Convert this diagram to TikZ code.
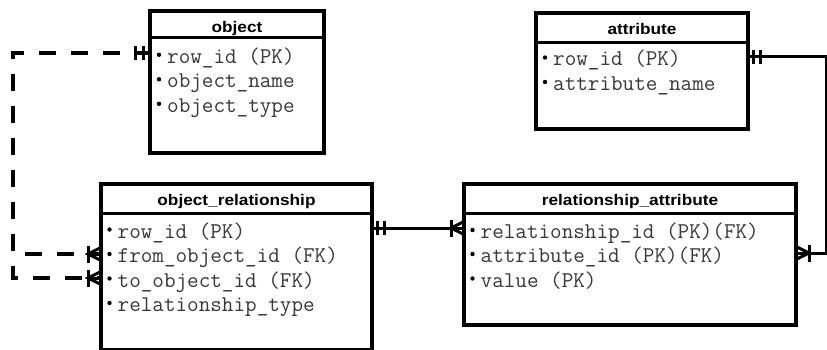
\documentclass[tikz,border=0pt]{standalone}
\usepackage{fontspec}
\newfontfamily\hdrfont[FakeStretch=1.12]{Liberation Sans}
\usetikzlibrary{calc}
\tikzset{
  tbl/.style={draw=black, line width=3.2pt, inner sep=0pt, outer sep=0pt, anchor=north west, fill=white},
  hline/.style={line width=3pt},
  hdr/.style={anchor=base, inner sep=0pt, font={\hdrfont\bfseries\fontsize{15.4}{18}\selectfont}},
  rowtxt/.style={anchor=base west, inner sep=0pt, text=black!78, font={\ttfamily\fontsize{22.5}{26}\selectfont}},
  conn/.style={line width=3pt},
  dconn/.style={line width=3.2pt, dash pattern=on 17pt off 15pt, dash phase=2pt},
  mk/.style={line width=3pt},
  crowfoot/.pic={
    \draw[mk] (0,-6.5) -- (13,0) -- (0,6.5);
    \draw[mk] (13,0) -- (0,0);
    \draw[mk] (13,-8.5) -- (13,8.5);
  },
  onebars/.pic={
    \draw[mk] (5,-7) -- (5,7);
    \draw[mk] (12,-7) -- (12,7);
  }
}
\newcommand\ERrow[3]{%
  \node[rowtxt] (#1) at (#2) {#3};
  \fill[black] ($(#1.base west)+(-8,-8.5)$) circle (2.2pt);
}
\begin{document}
\begin{tikzpicture}[x=1pt,y=-1pt]
\useasboundingbox (0,0) rectangle (827,350);
\fill[white] (0,0) rectangle (827,350);

% tables
\node[tbl, minimum width=174pt, minimum height=142pt] (object) at (150,11) {};
\node[tbl, minimum width=212pt, minimum height=116pt] (attribute) at (536,13) {};
\node[tbl, minimum width=271pt, minimum height=166pt] (objrel) at (101,184) {};
\node[tbl, minimum width=332pt, minimum height=141pt] (relattr) at (464,184) {};

\draw[hline] (object.west |- 0,38) -- (object.east |- 0,38);
\draw[hline] (attribute.west |- 0,43) -- (attribute.east |- 0,43);
\draw[hline] (objrel.west |- 0,213) -- (objrel.east |- 0,213);
\draw[hline] (relattr.west |- 0,213) -- (relattr.east |- 0,213);

\node[hdr] (objectT) at (237,32.7) {object};
\node[hdr] (attributeT) at (642,34.5) {attribute};
\node[hdr] (objrelT) at (236.5,205.7) {object\_relationship};
\node[hdr] (relattrT) at (630,205.7) {relationship\_attribute};

\ERrow{o1}{167,63.3}{row\_id (PK)}
\ERrow{o2}{167,87.8}{object\_name}
\ERrow{o3}{167,112.3}{object\_type}

\ERrow{a1}{553,66}{row\_id (PK)}
\ERrow{a2}{553,90.5}{attribute\_name}

\ERrow{r1}{117.5,238}{row\_id (PK)}
\ERrow{r2}{117.5,262.5}{from\_object\_id (FK)}
\ERrow{r3}{117.5,287}{to\_object\_id (FK)}
\ERrow{r4}{117.5,311.5}{relationship\_type}

\ERrow{ra1}{480.5,238.5}{relationship\_id (PK)(FK)}
\ERrow{ra2}{480.5,262.5}{attribute\_id (PK)(FK)}
\ERrow{ra3}{480.5,287}{value (PK)}

% connection points
\coordinate (objL) at (object.west |- 0,53);
\coordinate (c1) at (13,53);
\coordinate (c2) at (13,254);
\coordinate (c3) at (13,278);
\coordinate (orL1) at (objrel.west |- 0,254);
\coordinate (orL2) at (objrel.west |- 0,278);
\coordinate (orR) at (objrel.east |- 0,228);
\coordinate (raL) at (relattr.west |- 0,228);
\coordinate (raR) at (relattr.east |- 0,253);
\coordinate (attR) at (attribute.east |- 0,57);
\coordinate (cR1) at (826.5,57);
\coordinate (cR2) at (826.5,253);

% connectors
\draw[dconn] (objL) -- (c1) -- (c2) -- (orL1);
\draw[dconn] (objL) -- (c1) -- (c3) -- (orL2);
\draw[conn] (orR) -- (raL);
\draw[conn] (attR) -- (cR1) -- (cR2) -- (raR);

% end markers
\draw[mk] ($(objL)+(-15,-7)$) -- ++(0,14);
\draw[mk] ($(objL)+(-7,-7)$) -- ++(0,14);
\pic[xscale=-1] at (orL1) {crowfoot};
\pic[xscale=-1] at (orL2) {crowfoot};
\pic at (orR) {onebars};
\pic[xscale=-1] at (raL) {crowfoot};
\pic at (attR) {onebars};
\pic at (raR) {crowfoot};
\end{tikzpicture}
\end{document}
